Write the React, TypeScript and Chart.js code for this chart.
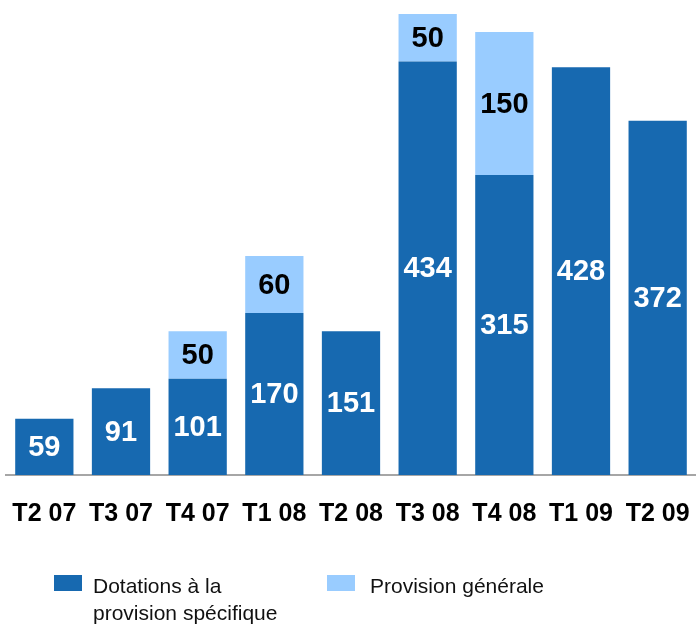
import React, { useEffect, useRef } from "react";
import { Chart, registerables } from "chart.js";

Chart.register(...registerables);

const categories = ["T2 07", "T3 07", "T4 07", "T1 08", "T2 08", "T3 08", "T4 08", "T1 09", "T2 09"];
const specifique = [59, 91, 101, 170, 151, 434, 315, 428, 372];
const generale = [null, null, 50, 60, null, 50, 150, null, null];
const seriesNames = [["Dotations à la", "provision spécifique"], ["Provision générale"]];
const yMax = 484;

const DARK = "#1769B0";
const LIGHT = "#99CCFF";

const labelPlugin = {
  id: "barLabels",
  afterDatasetsDraw(chart: any) {
    const ctx = chart.ctx;
    ctx.save();
    ctx.font = "bold 29px 'Liberation Sans', Arial, sans-serif";
    ctx.textAlign = "center";
    ctx.textBaseline = "middle";
    chart.data.datasets.forEach((ds: any, di: number) => {
      const meta = chart.getDatasetMeta(di);
      meta.data.forEach((el: any, i: number) => {
        const v = ds.data[i];
        if (v == null) return;
        const p = el.getCenterPoint();
        ctx.fillStyle = di === 0 ? "#ffffff" : "#000000";
        ctx.fillText(String(v), p.x, p.y + 1);
      });
    });
    ctx.restore();
  },
};

const legendPlugin = {
  id: "customLegend",
  afterDraw(chart: any) {
    const ctx = chart.ctx;
    ctx.save();
    ctx.font = "21px 'Liberation Sans', Arial, sans-serif";
    ctx.textAlign = "left";
    ctx.textBaseline = "alphabetic";
    const items = [
      { x: 54, tx: 93 },
      { x: 327, tx: 370 },
    ];
    chart.data.datasets.forEach((ds: any, di: number) => {
      const it = items[di];
      ctx.fillStyle = ds.backgroundColor;
      ctx.fillRect(it.x, 575, 28, 16);
      ctx.fillStyle = "#111111";
      seriesNames[di].forEach((line: string, li: number) => {
        ctx.fillText(line, it.tx, 593 + li * 27);
      });
    });
    ctx.restore();
  },
};

export default function App() {
  const ref = useRef<HTMLCanvasElement | null>(null);
  useEffect(() => {
    document.body.style.margin = "0";
    const chart = new Chart(ref.current as HTMLCanvasElement, {
      type: "bar",
      data: {
        labels: categories,
        datasets: [
          { label: seriesNames[0].join(" "), data: specifique, backgroundColor: DARK, barPercentage: 0.76, categoryPercentage: 1 },
          { label: seriesNames[1].join(" "), data: generale as any, backgroundColor: LIGHT, barPercentage: 0.76, categoryPercentage: 1 },
        ],
      },
      options: {
        animation: false,
        responsive: false,
        layout: { padding: { left: 6, right: 0, top: 14, bottom: 73 } },
        plugins: { legend: { display: false }, tooltip: { enabled: false } },
        scales: {
          x: {
            stacked: true,
            grid: { display: false, drawTicks: false },
            border: { display: true, color: "#A6A6A6", width: 2 },
            afterFit(scale: any) {
              scale.paddingLeft = 0;
              scale.paddingRight = 0;
            },
            ticks: {
              color: "#000000",
              padding: 24,
              maxRotation: 0,
              font: { family: "'Liberation Sans', Arial, sans-serif", size: 25, weight: "bold" },
            },
          },
          y: {
            stacked: true,
            display: false,
            min: 0,
            max: yMax,
          },
        },
      },
      plugins: [labelPlugin, legendPlugin],
    });
    return () => chart.destroy();
  }, []);
  return (
    <div style={{ width: 696, height: 626 }}>
      <canvas ref={ref} width={696} height={626} />
    </div>
  );
}
